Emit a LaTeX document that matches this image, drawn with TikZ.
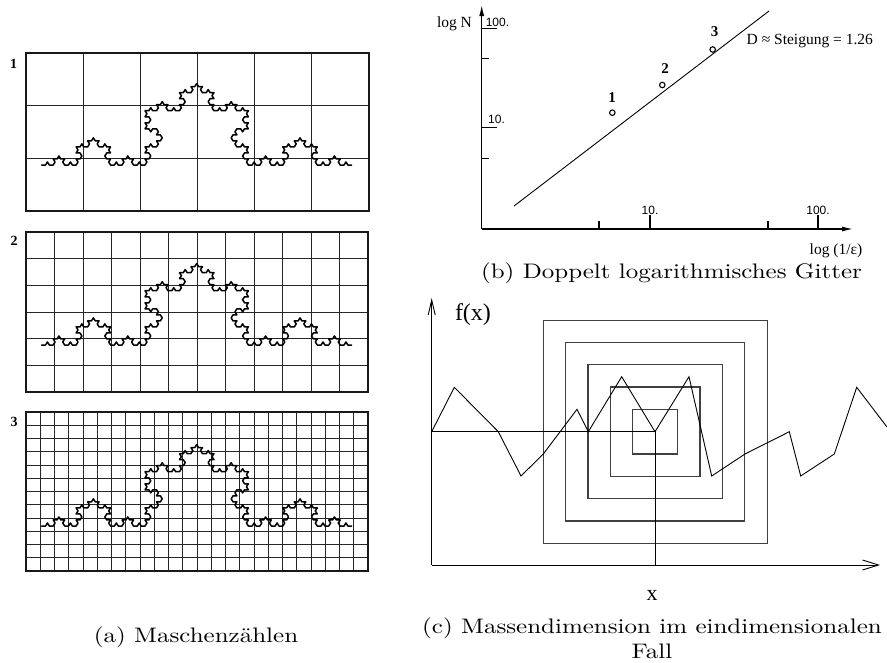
\documentclass[tikz,border=0pt]{standalone}
\usepackage{fontspec}
\usepackage{graphicx}
\newfontfamily\tms{Liberation Serif}
\newfontfamily\hlv{Liberation Sans}
\usetikzlibrary{arrows.meta,lindenmayersystems}
\pgfdeclarelindenmayersystem{koch}{\rule{F -> F+F--F+F}}
\newcommand{\MeshGrid}[6]{%
  \foreach \i in {0,...,#5}{\draw[gridl] ({#1+\i*(#3-#1)/#5},#2) -- ({#1+\i*(#3-#1)/#5},#4);}%
  \foreach \j in {0,...,#6}{\draw[gridl] (#1,{#2+\j*(#4-#2)/#6}) -- (#3,{#2+\j*(#4-#2)/#6});}%
  \draw[gframe] (#1,#2) rectangle (#3,#4);%
}
\newcommand{\CapText}[1]{\scalebox{2.5}[2.1]{\fontsize{10}{12}\selectfont\addfontfeatures{FakeBold=0.6}#1}}
\begin{document}
\begin{tikzpicture}[x=1pt,y=-1pt,
  gridl/.style={line width=1.0pt, draw=black!85},
  gframe/.style={line width=1.3pt, draw=black!90},
  kochl/.style={line width=1.5pt, line join=round, line cap=round,
    l-system={koch, axiom=F, order=4, step=3.827pt, angle=60}},
  txt/.style={inner sep=0pt, outer sep=0pt},
  numa/.style={txt, font=\tms\bfseries\fontsize{14}{16}\selectfont},
  numb/.style={txt, font=\tms\bfseries\fontsize{15}{17}\selectfont},
  blab/.style={txt, font=\tms\fontsize{15.5}{18}\selectfont},
  tlab/.style={txt, font=\hlv\fontsize{12}{14}\selectfont},
  baxis/.style={line width=1.2pt, -{Latex[length=11pt,width=5pt]}},
  btick/.style={line width=1.1pt},
  dotc/.style={circle, draw, line width=1.1pt, minimum size=5.5pt, inner sep=0pt},
  caxis/.style={line width=0.9pt},
  sq/.style={line width=1.3pt, draw=black!75},
  zig/.style={line width=0.9pt, line join=miter},
  captxt/.style={txt, anchor=base}]
\useasboundingbox (0,0) rectangle (887,662);

% ---------- panel (a) ----------
\MeshGrid{26}{53}{369}{211}{6}{3}
\MeshGrid{26}{232}{368}{392}{12}{6}
\MeshGrid{26}{412}{368}{571}{24}{12}
\begin{scope}[shift={(41.7,165)}, yscale=0.91]
  \draw[kochl] (0,0) lindenmayer system;
\end{scope}
\begin{scope}[shift={(41.7,345)}, yscale=0.91]
  \draw[kochl] (0,0) lindenmayer system;
\end{scope}
\begin{scope}[shift={(41.7,526)}, yscale=0.91]
  \draw[kochl] (0,0) lindenmayer system;
\end{scope}
\node[numa] (na1) at (13.5,63.5) {1};
\node[numa] (na2) at (14,241) {2};
\node[numa] (na3) at (14,422) {3};
\node[captxt] (capa) at (196,642) {\CapText{(a) Maschenzählen}};

% ---------- panel (b) ----------
\coordinate (bO) at (481.7,229);
\coordinate (bY) at (481.7,5);
\coordinate (bX) at (853,229);
\draw[baxis] (bO) -- (bY);
\draw[baxis] (bO) -- (bX);
\foreach \yy/\len in {28.3/15,58.3/7,127.7/15,158.3/7}
  \draw[btick] (481.7,\yy) -- ++(\len,0);
\foreach \xx/\len in {599/8,650/14,768/8,818/14}
  \draw[btick] (\xx,229) -- ++(0,-\len);
\node[tlab] (ty100) at (497.5,22.5) {100.};
\node[tlab] (ty10) at (496.5,119.5) {10.};
\node[tlab] (tx10) at (650,210) {10.};
\node[tlab] (tx100) at (818,210) {100.};
\node[blab, anchor=base] (logN) at (454.5,27) {log N};
\node[blab, anchor=base] (logE) at (836,254) {log (1/ε)};
\coordinate (rl1) at (514,206);
\coordinate (rl2) at (769,11);
\draw[line width=0.9pt] (rl1) -- (rl2);
\node[dotc] (p1) at (612.3,112.7) {};
\node[dotc] (p2) at (662.3,85) {};
\node[dotc] (p3) at (712.7,49.5) {};
\node[numb] (l1) at (612,97.7) {1};
\node[numb] (l2) at (665,68.3) {2};
\node[numb] (l3) at (714.5,32) {3};
\node[blab, anchor=base west] (slope) at (746.7,44) {D ≈ Steigung = 1.26};
\node[captxt] (capb) at (671.5,278) {\CapText{(b) Doppelt logarithmisches Gitter}};

% ---------- panel (c) ----------
\coordinate (cO) at (431.7,565);
\coordinate (cY) at (431.7,298);
\coordinate (cX) at (880,565);
\coordinate (cC) at (655,431.7);
\coordinate (cL) at (431.7,431.7);
\coordinate (cB) at (655,565);
\foreach \k in {1,...,5}
  \draw[sq] ({655.2-22.4*\k},{431.7-22.3*\k}) rectangle ({655.2+22.4*\k},{431.7+22.3*\k});
\draw[caxis, -{Straight Barb[length=15pt,width=7pt]}] (cO) -- (cY);
\draw[caxis, -{Straight Barb[length=16pt,width=10pt]}] (cO) -- (cX);
\draw[caxis] (cL) -- (cC) -- (cB);
\draw[zig] (431.7,431.7) -- (454.3,387.3) -- (498.3,431.7) -- (521,476) -- (543.3,454)
  -- (577,409.3) -- (588.3,431.7) -- (621.7,376.7) -- (655,431.7) -- (689,376.7)
  -- (711.7,476) -- (745,454) -- (789.3,431.7) -- (800.7,476) -- (834.3,454)
  -- (856.7,387.3) -- (887,427);
\node[txt, anchor=base west, font=\tms\fontsize{24}{28}\selectfont] (fx) at (455,320) {f(x)};
\node[txt, anchor=base, font=\tms\fontsize{22}{26}\selectfont] (xl) at (652,600) {x};
\node[captxt] (capc1) at (652,633) {\CapText{(c) Massendimension im eindimensionalen}};
\node[captxt] (capc2) at (652,658) {\CapText{Fall}};
\end{tikzpicture}
\end{document}
